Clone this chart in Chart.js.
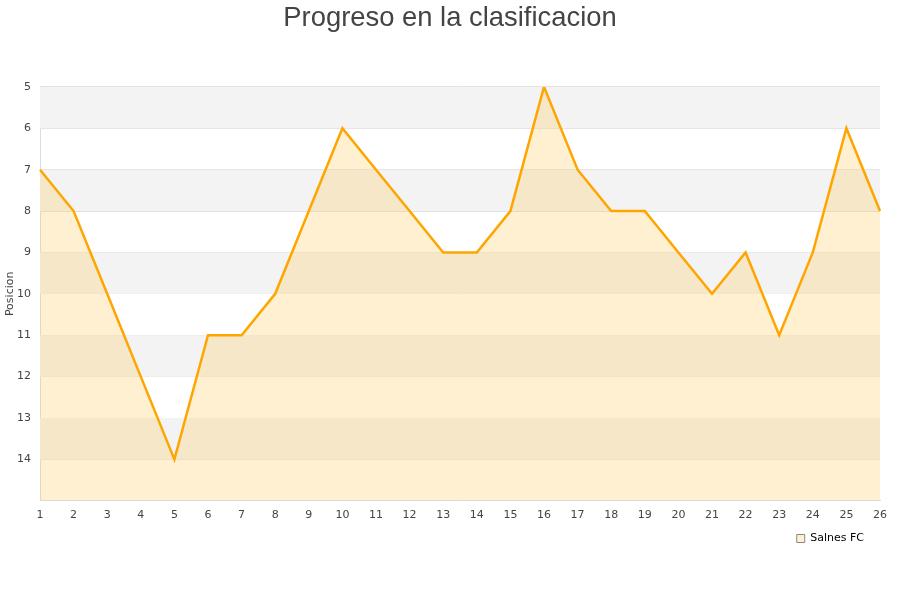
<!DOCTYPE html>
<html>
<head>
<meta charset="utf-8">
<script src="https://cdn.jsdelivr.net/npm/chart.js@4"></script>
<style>
  html, body { margin: 0; padding: 0; background: #fff; }
  #wrap { width: 900px; height: 600px; }
</style>
</head>
<body>
<div id="wrap"><canvas id="chart" width="900" height="600"></canvas></div>
<script>
// Jornadas y posiciones
const jornadas = ['1','2','3','4','5','6','7','8','9','10','11','12','13','14','15','16','17','18','19','20','21','22','23','24','25','26'];
const posiciones = [7, 8, 10, 12, 14, 11, 11, 10, 8, 6, 7, 8, 9, 9, 8, 5, 7, 8, 8, 9, 10, 9, 11, 9, 6, 8];
const equipo = 'Salnes FC';
const posMin = 5;
const posMax = 15;

// Alternating grey bands behind the plot, plus small layout nudges
const bandsPlugin = {
    id: 'bands',
    afterLayout(chart) {
        // legend sits a bit left of the plot's right edge
        if (chart.legend) {
            chart.legend.left -= 5;
            chart.legend.right -= 5;
        }
        // title is centred on the whole canvas
        if (chart.titleBlock) {
            chart.titleBlock.left += 10;
            chart.titleBlock.right += 10;
        }
    },
    beforeDatasetsDraw(chart) {
        const { ctx, chartArea, scales } = chart;
        const y = scales.y;
        ctx.save();
        ctx.fillStyle = '#f3f3f3';
        for (let v = posMin; v < posMax; v += 2) {
            const top = y.getPixelForValue(v);
            const bottom = y.getPixelForValue(v + 1);
            ctx.fillRect(chartArea.left, top, chartArea.right - chartArea.left, bottom - top);
        }
        ctx.restore();
    }
};

const ctx = document.getElementById('chart').getContext('2d');
new Chart(ctx, {
    type: 'line',
    data: {
        labels: jornadas,
        datasets: [{
            label: equipo,
            data: posiciones,
            borderColor: '#ffa500',
            backgroundColor: 'rgba(255, 204, 102, 0.3)',
            borderWidth: 2.5,
            pointRadius: 0,
            tension: 0,
            fill: 'start'
        }]
    },
    options: {
        responsive: false,
        animation: false,
        layout: { padding: { left: 0, right: 20, bottom: 46, top: 0 } },
        plugins: {
            title: {
                display: true,
                text: 'Progreso en la clasificacion',
                color: '#444',
                font: { family: 'Liberation Sans', size: 27.4, weight: 'normal' },
                padding: { top: 2, bottom: 52 }
            },
            legend: {
                position: 'bottom',
                align: 'end',
                labels: {
                    color: '#222',
                    boxWidth: 8,
                    boxHeight: 8,
                    font: { family: 'DejaVu Sans', size: 11 },
                    padding: 11,
                    generateLabels(chart) {
                        return [{
                            text: equipo,
                            fillStyle: 'rgba(255, 204, 102, 0.3)',
                            strokeStyle: '#888',
                            lineWidth: 1,
                            datasetIndex: 0
                        }];
                    }
                }
            },
            tooltip: { enabled: false }
        },
        scales: {
            x: {
                offset: false,
                grid: { display: false },
                border: { color: '#ddd' },
                ticks: {
                    color: '#444',
                    font: { family: 'DejaVu Sans', size: 11 },
                    maxRotation: 0,
                    autoSkip: false,
                    padding: 0
                }
            },
            y: {
                reverse: true,
                min: posMin,
                max: posMax,
                grid: { color: '#e0e0e0', drawTicks: false },
                border: { color: '#ddd' },
                afterFit(scale) { scale.width = 40; },
                title: {
                    display: true,
                    text: 'Posicion',
                    color: '#444',
                    font: { family: 'DejaVu Sans', size: 11 },
                    padding: { top: 4, bottom: 0 }
                },
                ticks: {
                    stepSize: 1,
                    color: '#444',
                    font: { family: 'DejaVu Sans', size: 11 },
                    padding: 9,
                    callback: v => (v === posMax ? '' : v)
                }
            }
        }
    },
    plugins: [bandsPlugin]
});
</script>
</body>
</html>
